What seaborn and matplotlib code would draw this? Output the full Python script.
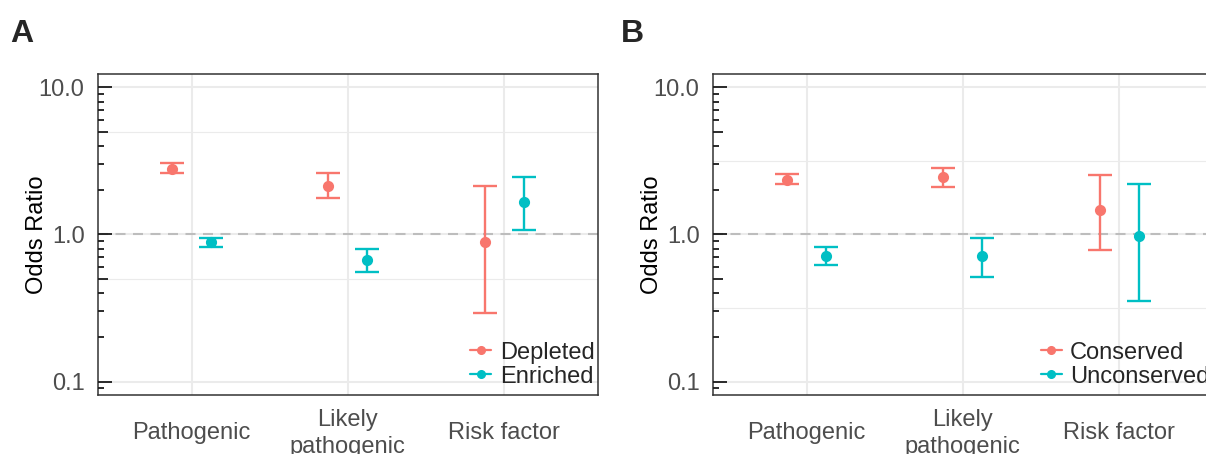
import matplotlib
matplotlib.use("Agg")
import matplotlib.pyplot as plt
import numpy as np
import pandas as pd
import seaborn as sns
from matplotlib.lines import Line2D

# ---- data ----
categories = ["Pathogenic", "Likely\npathogenic", "Risk factor"]

groups_a = ["Depleted", "Enriched"]
or_a_depleted = [2.79, 2.15, 0.896]
lo_a_depleted = [2.60, 1.77, 0.291]
hi_a_depleted = [3.05, 2.62, 2.12]
or_a_enriched = [0.896, 0.666, 1.65]
lo_a_enriched = [0.825, 0.558, 1.07]
hi_a_enriched = [0.954, 0.795, 2.47]

groups_b = ["Conserved", "Unconserved"]
or_b_conserved = [2.36, 2.45, 1.46]
lo_b_conserved = [2.21, 2.11, 0.787]
hi_b_conserved = [2.56, 2.84, 2.54]
or_b_unconserved = [0.72, 0.717, 0.98]
lo_b_unconserved = [0.625, 0.518, 0.351]
hi_b_unconserved = [0.825, 0.954, 2.19]

minor_grid_a = [5.0, 0.5]
minor_grid_b = [10 ** 0.5, 10 ** -0.5]

palette = ["#F8766D", "#00BFC4"]
FS = 17


def build_frame(groups, ors, los, his):
    rows = []
    for g, o, l, h in zip(groups, ors, los, his):
        for c, ov, lv, hv in zip(categories, o, l, h):
            rows.append({"category": c, "group": g, "OR": ov, "lo": lv, "hi": hv})
    return pd.DataFrame(rows)


def draw_panel(ax, df, groups, minor_grid, letter_x, letter):
    ax.set_yscale("log")
    sns.pointplot(
        data=df, x="category", y="OR", hue="group", order=categories,
        hue_order=groups, palette=palette, dodge=0.25, linestyle="none",
        errorbar=None, markers="o", markersize=6, legend=False, ax=ax,
        zorder=5,
    )
    # error bars at the dodged positions seaborn used
    point_lines = [ln for ln in ax.lines if len(ln.get_xdata()) == len(categories)]
    for ln, g, col in zip(point_lines, groups, palette):
        sub = df[df["group"] == g].set_index("category").loc[categories]
        xs = np.asarray(ln.get_xdata(), dtype=float)
        ys = sub["OR"].to_numpy()
        yerr = [ys - sub["lo"].to_numpy(), sub["hi"].to_numpy() - ys]
        ax.errorbar(xs, ys, yerr=yerr, fmt="none", ecolor=col, elinewidth=1.7,
                    capsize=8.3, capthick=1.7, zorder=4)

    ax.set_xlim(-0.6, 2.6)
    ax.set_ylim(10 ** -1.09, 10 ** 1.09)

    # grid
    grid_kw = dict(color="#EBEBEB", zorder=0)
    for yv in [0.1, 1.0, 10.0]:
        ax.axhline(yv, lw=1.5, **grid_kw)
    for yv in minor_grid:
        ax.axhline(yv, lw=0.8, **grid_kw)
    for xv in range(len(categories)):
        ax.axvline(xv, lw=1.5, **grid_kw)
    ax.axhline(1.0, color="#BDBDBD", lw=1.5, ls=(0, (4.8, 3.6)), zorder=2)

    # annotation-style log ticks inside the left edge
    w_px = ax.get_window_extent().width
    trans = ax.get_yaxis_transform()
    for dec in [0.01, 0.1, 1.0, 10.0]:
        for k in range(1, 10):
            yv = dec * k
            if k == 1:
                length = 14
            elif k == 5:
                length = 10
            else:
                length = 6
            ax.plot([0, length / w_px], [yv, yv], color="#1a1a1a", lw=1.3,
                    transform=trans, zorder=6, solid_capstyle="butt")

    ax.set_yticks([0.1, 1.0, 10.0])
    ax.set_yticklabels(["0.1", "1.0", "10.0"])
    ax.yaxis.set_minor_locator(matplotlib.ticker.NullLocator())
    ax.set_xticks(range(len(categories)))
    ax.set_xticklabels(categories, linespacing=1.3)
    ax.tick_params(axis="both", length=5.5, width=1.3, color="#333333",
                   labelcolor="#4D4D4D", labelsize=FS)
    ax.tick_params(axis="y", pad=4)
    ax.tick_params(axis="x", pad=22)
    for lab in ax.get_xticklabels():
        lab.set_va("center")

    ax.set_xlabel("")
    ax.set_ylabel("Odds Ratio", fontsize=FS, color="black")
    ax.yaxis.set_label_coords(-0.10, 0.5)

    for sp in ax.spines.values():
        sp.set_visible(True)
        sp.set_color("#333333")
        sp.set_linewidth(1.1)

    handles = [Line2D([0], [0], color=c, lw=1.6, marker="o", markersize=5.5)
               for c in palette]
    ax.legend(handles, groups, loc="lower right", bbox_to_anchor=(1.0, 0.012),
              frameon=False, fontsize=FS, handlelength=0.9, handletextpad=0.35,
              labelspacing=0.08, borderaxespad=0.1, borderpad=0.05)

    ax.figure.text(letter_x, 0.908, letter, fontsize=23, fontweight="bold",
                   va="baseline", ha="left")


sns.set_style("white")
plt.rcParams["font.family"] = ["Liberation Sans", "DejaVu Sans"]

fig = plt.figure(figsize=(12.06, 4.54), dpi=100)
ax_a = fig.add_axes([97.7 / 1206, 1 - 395 / 454, 500.3 / 1206, 321 / 454])
ax_b = fig.add_axes([712.7 / 1206, 1 - 395 / 454, 500.3 / 1206, 321 / 454])

df_a = build_frame(groups_a,
                   [or_a_depleted, or_a_enriched],
                   [lo_a_depleted, lo_a_enriched],
                   [hi_a_depleted, hi_a_enriched])
df_b = build_frame(groups_b,
                   [or_b_conserved, or_b_unconserved],
                   [lo_b_conserved, lo_b_unconserved],
                   [hi_b_conserved, hi_b_unconserved])

draw_panel(ax_a, df_a, groups_a, minor_grid_a, 10 / 1206, "A")
draw_panel(ax_b, df_b, groups_b, minor_grid_b, 621 / 1206, "B")

fig.savefig("out.png", dpi=100)
